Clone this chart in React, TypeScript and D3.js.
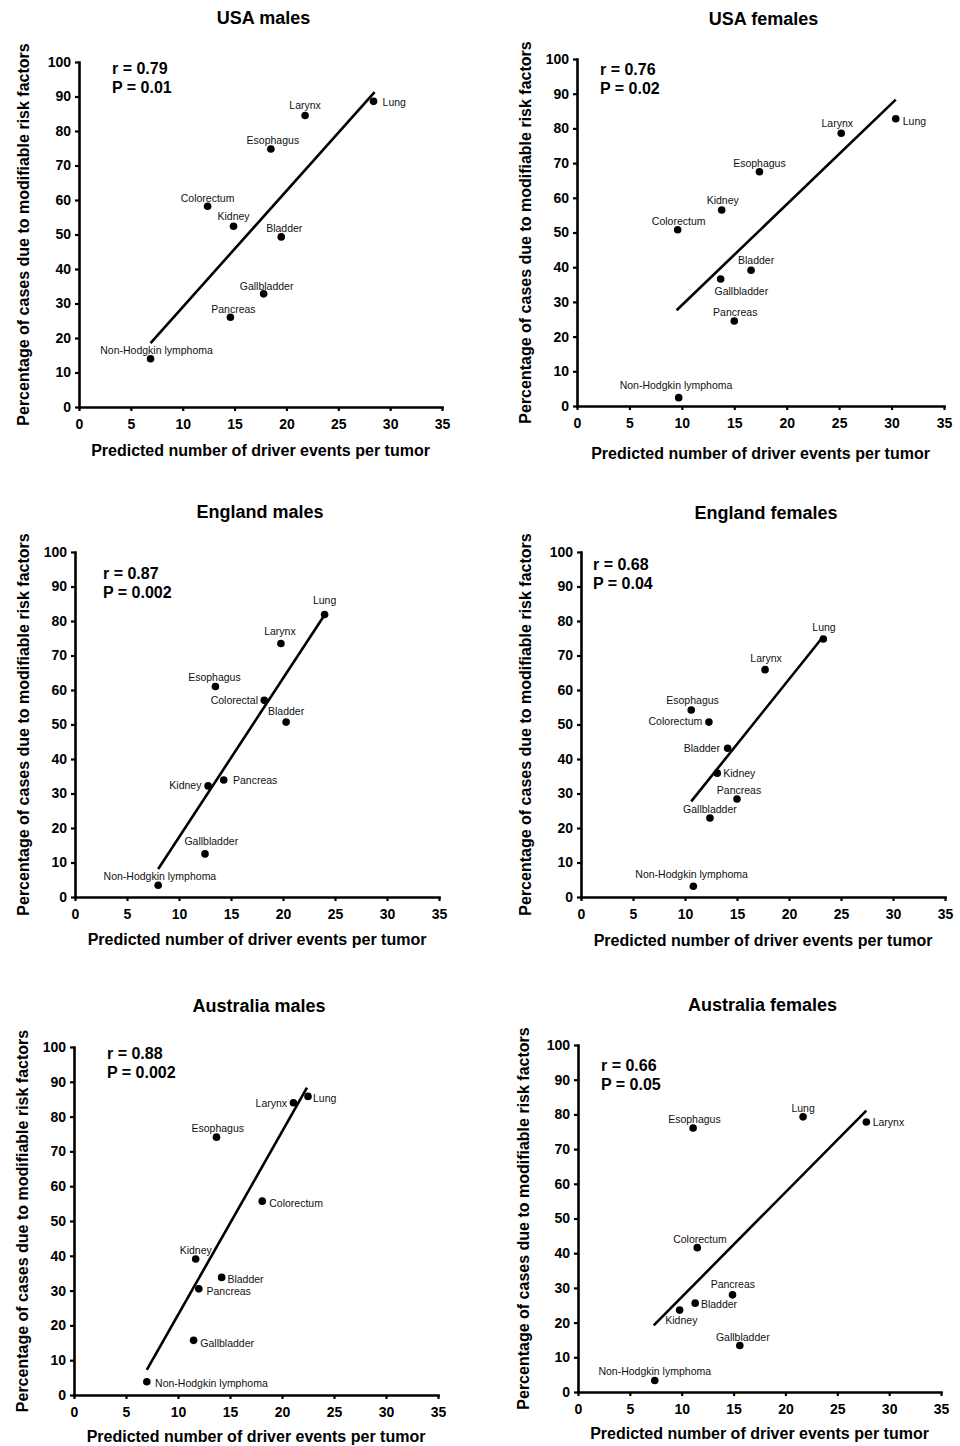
import React, { useEffect, useRef } from "react";
import * as d3 from "d3";

// ---- Data ----
const panelTitles = ["USA males", "USA females", "England males", "England females", "Australia males", "Australia females"];

const namesStd = ["Lung", "Larynx", "Esophagus", "Colorectum", "Kidney", "Bladder", "Gallbladder", "Pancreas", "Non-Hodgkin lymphoma"];
const namesEngMales = ["Lung", "Larynx", "Esophagus", "Colorectal", "Kidney", "Bladder", "Gallbladder", "Pancreas", "Non-Hodgkin lymphoma"];

const usaMalesX = [28.4, 21.8, 18.5, 12.4, 14.9, 19.5, 17.8, 14.6, 6.9];
const usaMalesY = [88.6, 84.5, 74.8, 58.2, 52.4, 49.3, 32.8, 26.0, 14.0];
const usaFemalesX = [30.4, 25.2, 17.4, 9.6, 13.8, 16.6, 13.7, 15.0, 9.7];
const usaFemalesY = [82.8, 78.6, 67.5, 50.8, 56.5, 39.1, 36.6, 24.5, 2.4];
const englandMalesX = [24.0, 19.8, 13.5, 18.2, 12.8, 20.3, 12.5, 14.3, 8.0];
const englandMalesY = [81.9, 73.5, 61.0, 57.0, 32.2, 50.7, 12.5, 33.9, 3.4];
const englandFemalesX = [23.3, 17.7, 10.6, 12.3, 13.1, 14.1, 12.4, 15.0, 10.8];
const englandFemalesY = [74.8, 65.9, 54.2, 50.7, 35.9, 43.1, 22.9, 28.4, 3.1];
const australiaMalesX = [22.5, 21.1, 13.7, 18.1, 11.7, 14.2, 11.5, 12.0, 7.0];
const australiaMalesY = [85.8, 84.0, 74.1, 55.7, 39.1, 33.8, 15.7, 30.5, 3.8];
const australiaFemalesX = [21.7, 27.8, 11.1, 11.5, 9.8, 11.3, 15.6, 14.9, 7.4];
const australiaFemalesY = [79.3, 77.8, 76.1, 41.6, 23.6, 25.6, 13.4, 28.0, 3.3];

// regression line endpoints [x1, y1, x2, y2]
const fitUsaMales = [6.9, 18.5, 28.5, 91.3];
const fitUsaFemales = [9.5, 27.6, 30.4, 88.3];
const fitEnglandMales = [8.0, 8.1, 23.9, 81.3];
const fitEnglandFemales = [10.6, 27.7, 23.1, 74.8];
const fitAustraliaMales = [7.0, 7.2, 22.4, 88.3];
const fitAustraliaFemales = [7.3, 19.2, 27.8, 81.1];

const rValues = ["r = 0.79", "r = 0.76", "r = 0.87", "r = 0.68", "r = 0.88", "r = 0.66"];
const pValues = ["P = 0.01", "P = 0.02", "P = 0.002", "P = 0.04", "P = 0.002", "P = 0.05"];

const xTicks = [0, 5, 10, 15, 20, 25, 30, 35];
const yTicks = [0, 10, 20, 30, 40, 50, 60, 70, 80, 90, 100];
const xLabel = "Predicted number of driver events per tumor";
const yLabel = "Percentage of cases due to modifiable risk factors";

// ---- Layout (positions / label placement) ----
type LP = [number, number, string];
const labelPlacement: LP[][] = [
  [[9, 1, "start"], [0, -10.7, "middle"], [2, -8.7, "middle"], [0, -8.7, "middle"], [0, -10.3, "middle"], [3, -8.7, "middle"], [3, -8.3, "middle"], [3, -8.3, "middle"], [6, -8.3, "middle"]],
  [[7, 2, "start"], [-4, -10, "middle"], [0, -9, "middle"], [1, -8.7, "middle"], [1, -9.7, "middle"], [5, -10, "middle"], [20.7, 12, "middle"], [1, -9.3, "middle"], [-2.7, -12.3, "middle"]],
  [[0, -14, "middle"], [-1, -12, "middle"], [-1, -9.3, "middle"], [-6.3, -0.7, "end"], [-6.7, -1, "end"], [0, -11.3, "middle"], [6.3, -12.7, "middle"], [9.3, 0, "start"], [1.7, -9, "middle"]],
  [[0.7, -12.3, "middle"], [1, -12, "middle"], [1.3, -10, "middle"], [-6.7, -0.7, "end"], [6, 0, "start"], [-7.7, -0.7, "end"], [0, -9, "middle"], [2, -9, "middle"], [-1.7, -12.3, "middle"]],
  [[5, 1.3, "start"], [-6.3, 0.3, "end"], [1.3, -9.3, "middle"], [7, 1.7, "start"], [0, -9.3, "middle"], [5.7, 2, "start"], [6.7, 2.3, "start"], [7.7, 2.3, "start"], [8.3, 1.7, "start"]],
  [[0, -8.7, "middle"], [6.3, 0.3, "start"], [1.3, -9.3, "middle"], [2.7, -9, "middle"], [1.7, 10.3, "middle"], [5.7, 0.7, "start"], [3, -8.3, "middle"], [0.3, -11, "middle"], [0, -10, "middle"]],
];

// plot frames: left, right, top, bottom, titleY, xLabelY, yLabelX, statsX, statsY
const frames = [
  { l: 79, r: 442, t: 62, b: 407, titleY: 18, xlY: 450, ylX: 23, sx: 112, sy: 68 },
  { l: 577, r: 944, t: 59, b: 406, titleY: 19, xlY: 453, ylX: 525, sx: 600, sy: 69 },
  { l: 75, r: 439, t: 552, b: 897, titleY: 512, xlY: 939, ylX: 23, sx: 103, sy: 573 },
  { l: 581, r: 945, t: 552, b: 897, titleY: 513, xlY: 940, ylX: 525, sx: 593, sy: 564 },
  { l: 74, r: 438, t: 1047, b: 1395, titleY: 1006, xlY: 1436, ylX: 22, sx: 107, sy: 1053 },
  { l: 578, r: 941, t: 1045, b: 1392, titleY: 1005, xlY: 1433, ylX: 523, sx: 601, sy: 1065 },
];

const FONT = "'Liberation Sans', Arial, Helvetica, sans-serif";

export default function App() {
  const ref = useRef<SVGSVGElement | null>(null);

  useEffect(() => {
    const svg = d3.select(ref.current);
    svg.selectAll("*").remove();

    const panelsX = [usaMalesX, usaFemalesX, englandMalesX, englandFemalesX, australiaMalesX, australiaFemalesX];
    const panelsY = [usaMalesY, usaFemalesY, englandMalesY, englandFemalesY, australiaMalesY, australiaFemalesY];
    const fits = [fitUsaMales, fitUsaFemales, fitEnglandMales, fitEnglandFemales, fitAustraliaMales, fitAustraliaFemales];
    const names = [namesStd, namesStd, namesEngMales, namesStd, namesStd, namesStd];

    frames.forEach((f, i) => {
      const g = svg.append("g").attr("font-family", FONT);
      const x = d3.scaleLinear().domain([0, 35]).range([f.l, f.r]);
      const y = d3.scaleLinear().domain([0, 100]).range([f.b, f.t]);
      const cx = (f.l + f.r) / 2;
      const cy = (f.t + f.b) / 2;

      // title
      g.append("text").attr("x", cx + 3).attr("y", f.titleY).attr("text-anchor", "middle")
        .attr("dominant-baseline", "central").attr("font-size", 18).attr("font-weight", "bold")
        .text(panelTitles[i]);

      // axes
      const xa = g.append("g").attr("transform", `translate(0,${f.b})`)
        .call(d3.axisBottom(x).tickValues(xTicks).tickSize(4).tickSizeOuter(0).tickPadding(8));
      const ya = g.append("g").attr("transform", `translate(${f.l},0)`)
        .call(d3.axisLeft(y).tickValues(yTicks).tickSize(4).tickSizeOuter(0).tickPadding(4));
      [xa, ya].forEach((a) => {
        a.selectAll("path").attr("stroke", "#000").attr("stroke-width", 2.6).attr("stroke-linecap", "square");
        a.selectAll("line").attr("stroke", "#000").attr("stroke-width", 2.2);
        a.selectAll("text").attr("font-size", 14).attr("font-weight", "bold").attr("font-family", FONT).attr("fill", "#000");
      });

      // axis labels
      g.append("text").attr("x", cx).attr("y", f.xlY).attr("text-anchor", "middle")
        .attr("dominant-baseline", "central").attr("font-size", 16).attr("font-weight", "bold").text(xLabel);
      g.append("text").attr("transform", `translate(${f.ylX},${cy}) rotate(-90)`).attr("text-anchor", "middle")
        .attr("dominant-baseline", "central").attr("font-size", 16).attr("font-weight", "bold").text(yLabel);

      // stats
      g.append("text").attr("x", f.sx).attr("y", f.sy).attr("dominant-baseline", "central")
        .attr("font-size", 16).attr("font-weight", "bold").text(rValues[i]);
      g.append("text").attr("x", f.sx).attr("y", f.sy + 19.5).attr("dominant-baseline", "central")
        .attr("font-size", 16).attr("font-weight", "bold").text(pValues[i]);

      // fit line
      const fit = fits[i];
      const line = d3.line<[number, number]>().x((d) => x(d[0])).y((d) => y(d[1]));
      g.append("path").attr("d", line([[fit[0], fit[1]], [fit[2], fit[3]]]) as string)
        .attr("stroke", "#000").attr("stroke-width", 2.6).attr("fill", "none");

      // points + labels
      const xs = panelsX[i];
      const ys = panelsY[i];
      xs.forEach((xv, j) => {
        g.append("circle").attr("cx", x(xv)).attr("cy", y(ys[j])).attr("r", 3.8).attr("fill", "#000");
        const lp = labelPlacement[i][j];
        g.append("text").attr("x", x(xv) + lp[0]).attr("y", y(ys[j]) + lp[1])
          .attr("text-anchor", lp[2]).attr("dominant-baseline", "central")
          .attr("font-size", 10.5).attr("fill", "#111").text(names[i][j]);
      });
    });
  }, []);

  return (
    <svg ref={ref} width={960} height={1446} style={{ position: "absolute", left: 0, top: 0, background: "#fff" }} />
  );
}
